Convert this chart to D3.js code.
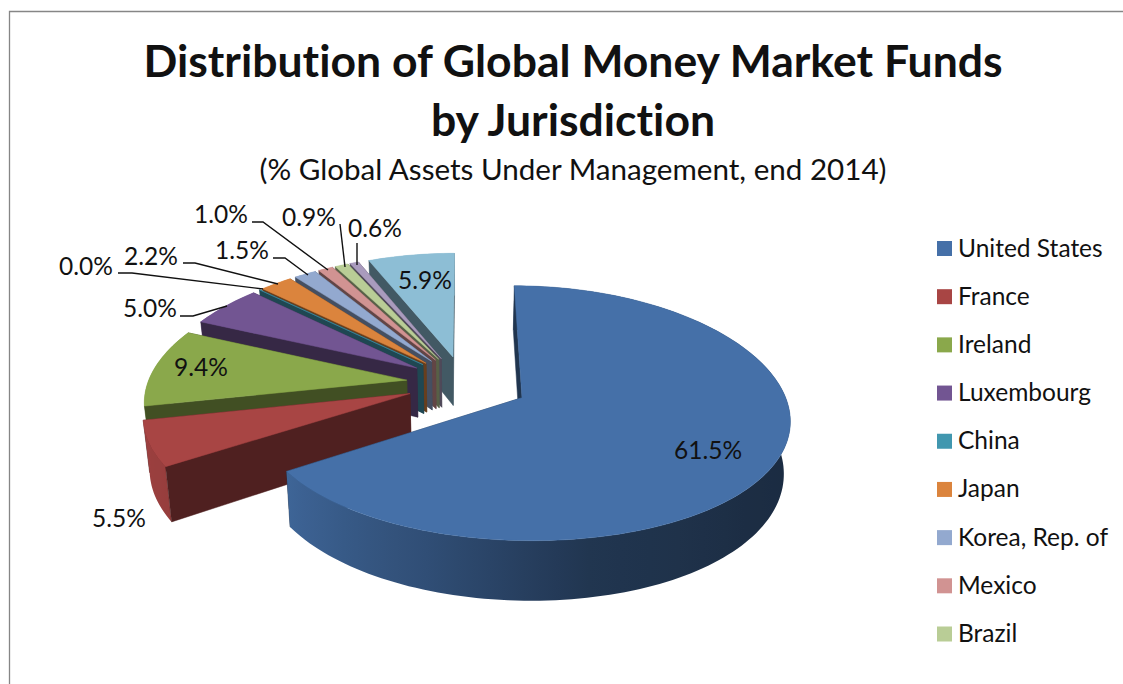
<!DOCTYPE html>
<html>
<head>
<meta charset="utf-8">
<script src="https://cdn.jsdelivr.net/npm/d3@7"></script>
<style>
  html, body { margin: 0; padding: 0; background: #fff; overflow: hidden; }
  svg { display: block; }
  text { font-family: Lato, "Open Sans", sans-serif; fill: #111; font-variant-ligatures: none; }
</style>
</head>
<body>
<main></main>
<script>
// slices in pie order, the last two never make it into the legend of the original
var values = [61.5, 5.5, 9.4, 5.0, 0.0, 2.2, 1.5, 1.0, 0.9, 0.6, 5.9];
var valueLabels = ["61.5%", "5.5%", "9.4%", "5.0%", "0.0%", "2.2%", "1.5%", "1.0%", "0.9%", "0.6%", "5.9%"];
var legendNames = ["United States", "France", "Ireland", "Luxembourg", "China", "Japan", "Korea, Rep. of", "Mexico", "Brazil"];
var colors = ["#4570a8", "#a84544", "#8aa84b", "#725592", "#4197af", "#db843d", "#93a9cf", "#d19392", "#b9cd96", "#a99bbd", "#8dbed5"];
var titleLines = ["Distribution of Global Money Market Funds", "by Jurisdiction"];
var subtitle = "(% Global Assets Under Management, end 2014)";

var width = 1123, height = 684;

var svg = d3.select("main").append("svg").attr("width", width).attr("height", height);
var defs = svg.append("defs");

// frame, cut off by the crop on the right and bottom
svg.append("path")
    .attr("d", "M9.5," + height + "V11.5H" + width)
    .attr("fill", "none")
    .attr("stroke", "#868686")
    .attr("stroke-width", 1.3);

// titles
svg.selectAll(".title")
    .data(titleLines)
    .enter().append("text")
    .attr("class", "title")
    .attr("x", 573)
    .attr("y", (d, i) => 77 + i * 59)
    .attr("text-anchor", "middle")
    .attr("font-weight", 700)
    .attr("font-size", 44.5)
    .text(d => d);

svg.append("text")
    .attr("x", 573)
    .attr("y", 180)
    .attr("text-anchor", "middle")
    .attr("font-size", 29.6)
    .text(subtitle);

// perspective of the tilted pie
var cx = 464, cy = 383, radius = 259, tilt = 0.471, depth = 50;
var perspX = 0.15, perspY = 0.12, bottomShrink = 0.98;
var explode = 0.223, explodeFirst = 0.25;

function project(wx, wy, down) {
    var sx = 1 / (1 - perspX * wy), sy = 1 / (1 - perspY * wy);
    var x = radius * wx * sx;
    return [cx + (down ? x * bottomShrink : x), cy + radius * tilt * wy * sy + (down ? depth * sx : 0)];
}

var pie = d3.pie().sort(null).value(d => d);
var arcs = pie(values).map(function(a, i) {
    var mid = (a.startAngle + a.endAngle) / 2;
    var e = i == 0 ? explodeFirst : explode;
    return {
        i: i,
        a0: a.startAngle,
        a1: a.endAngle,
        mid: mid,
        ox: e * Math.sin(mid),
        oy: -e * Math.cos(mid)
    };
});

function rim(d, angle, down) {
    return project(d.ox + Math.sin(angle), d.oy - Math.cos(angle), down);
}
function apex(d, down) {
    return project(d.ox, d.oy, down);
}
function sweep(a0, a1, n) {
    return d3.range(n + 1).map(k => a0 + (a1 - a0) * k / n);
}

var line = d3.line();
var rad = Math.PI / 180;

// how dark the outer wall gets, by the compass angle of the wall
var wallShade = d3.scaleLinear()
    .domain([60, 130, 170, 200, 236, 262, 360])
    .range([0.62, 0.6, 0.52, 0.3, 0.1, 0.05, 0.05])
    .clamp(true);

var wallDark = 0.53;

// back slices first so the front ones paint over them
var order = arcs.slice().sort((p, q) => (-Math.cos(p.mid)) - (-Math.cos(q.mid)));

var pieG = svg.append("g");

order.forEach(function(d) {
    var g = pieG.append("g");
    var col = colors[d.i];
    var dark = d3.interpolateRgb(col, "#000")(wallDark);

    function radial(angle) {
        g.append("path")
            .attr("d", line([rim(d, angle), apex(d), apex(d, true), rim(d, angle, true)]) + "Z")
            .attr("fill", dark)
            .attr("stroke", dark)
            .attr("stroke-width", 0.5);
    }

    radial(d.a1);

    // outer wall, gradient runs along the part of the rim that faces the viewer
    var n = Math.max(2, Math.ceil((d.a1 - d.a0) / (1.5 * rad)));
    var steps = sweep(d.a0, d.a1, n);
    var top = steps.map(t => rim(d, t));
    var bottom = steps.map(t => rim(d, t, true)).reverse();
    var lo = Math.max(d.a0, 90 * rad), hi = Math.min(d.a1, 270 * rad);
    var wallFill = d3.interpolateRgb(col, "#000")(wallShade(d.mid / rad));
    if (hi > lo) {
        var stops = sweep(lo, hi, 24);
        var xs = stops.map(t => rim(d, t)[0]);
        var x1 = d3.min(xs), x2 = d3.max(xs);
        var offset = d3.scaleLinear().domain([x1, x2]).range([0, 1]);
        var grad = defs.append("linearGradient")
            .attr("id", "wall" + d.i)
            .attr("gradientUnits", "userSpaceOnUse")
            .attr("x1", x1).attr("x2", x2).attr("y1", 0).attr("y2", 0);
        stops.map((t, k) => [offset(xs[k]), t])
            .sort((p, q) => p[0] - q[0])
            .forEach(function(s) {
                grad.append("stop")
                    .attr("offset", s[0])
                    .attr("stop-color", d3.interpolateRgb(col, "#000")(wallShade(s[1] / rad)));
            });
        wallFill = "url(#wall" + d.i + ")";
    }
    g.append("path")
        .attr("d", line(top.concat(bottom)) + "Z")
        .attr("fill", wallFill);

    radial(d.a0);

    // top face
    g.append("path")
        .attr("d", line([apex(d)].concat(top)) + "Z")
        .attr("fill", col)
        .attr("stroke", col)
        .attr("stroke-width", 0.5);
});

// labels: where the label text sits and how its leader runs, keys follow values
var insideLabels = { 0: [708, 450], 2: [201, 367], 10: [425, 280], 1: [119, 518] };
var leaderLabels = {
    3: { at: [150, 308], path: [[180, 316], [193, 316], [227, 306]] },
    4: { at: [86, 266], path: [[118, 273], [132, 273], [263, 289]] },
    5: { at: [151, 256], path: [[183, 263], [195, 263], [278, 284]] },
    6: { at: [242, 250], path: [[273, 258], [285, 258], [308, 275]] },
    7: { at: [221, 214], path: [[252, 222], [263, 222], [328, 270]] },
    8: { at: [309, 217], path: [[340, 224], [345, 267]] },
    9: { at: [375, 228], path: [[357, 243], [357, 265]] }
};

var labelG = svg.append("g");

Object.keys(leaderLabels).forEach(function(k) {
    labelG.append("path")
        .attr("d", line(leaderLabels[k].path))
        .attr("fill", "none")
        .attr("stroke", "#111")
        .attr("stroke-width", 1.4);
});

function labelText(i, at) {
    labelG.append("text")
        .attr("x", at[0])
        .attr("y", at[1] + 8.5)
        .attr("text-anchor", "middle")
        .attr("font-size", 24.5)
        .text(valueLabels[i]);
}
Object.keys(insideLabels).forEach(k => labelText(+k, insideLabels[k]));
Object.keys(leaderLabels).forEach(k => labelText(+k, leaderLabels[k].at));

// legend
var legendY = d3.scalePoint().domain(legendNames).range([248.5, 634]);

var legend = svg.selectAll(".legend")
    .data(legendNames)
    .enter().append("g")
    .attr("class", "legend")
    .attr("transform", d => "translate(937," + legendY(d) + ")");

legend.append("rect")
    .attr("y", -7.5)
    .attr("width", 15)
    .attr("height", 15)
    .attr("fill", (d, i) => colors[i]);

legend.append("text")
    .attr("x", 21)
    .attr("y", 8)
    .attr("font-size", 24.5)
    .text(d => d);
</script>
</body>
</html>
